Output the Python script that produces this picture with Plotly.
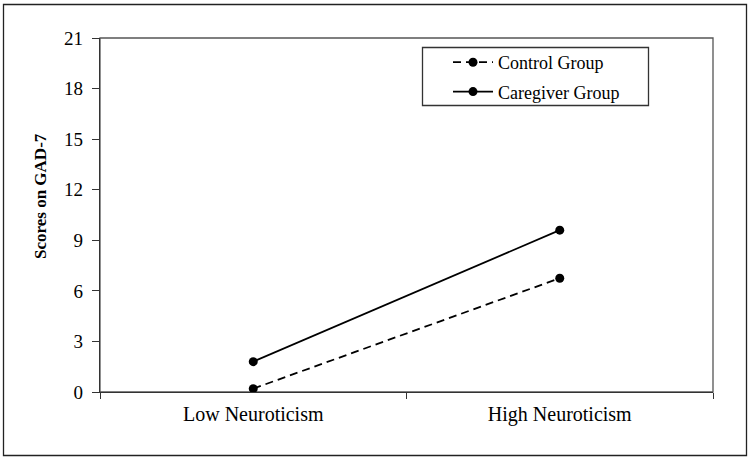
import plotly.graph_objects as go

categories = ["Low Neuroticism", "High Neuroticism"]
control_values = [0.2, 6.75]
caregiver_values = [1.8, 9.6]
y_ticks = [0, 3, 6, 9, 12, 15, 18, 21]

W, H = 750, 460
ml, mr, mt, mb = 100, 37, 38, 68
pw, ph = W - ml - mr, H - mt - mb

fig = go.Figure()
fig.add_trace(go.Scatter(
    x=categories, y=control_values, name="Control Group", mode="lines+markers",
    legendgroup="a",
    line=dict(color="black", width=1.8, dash="8px,5px"),
    marker=dict(color="black", size=9, symbol="circle"),
))
fig.add_trace(go.Scatter(
    x=categories, y=caregiver_values, name="Caregiver Group", mode="lines+markers",
    legendgroup="b",
    line=dict(color="black", width=1.8),
    marker=dict(color="black", size=9, symbol="circle"),
))

def px2x(p):
    return (p - ml) / pw

def py2y(p):
    return (H - mb - p) / ph

# outer frame
fig.add_shape(type="rect", xref="paper", yref="paper",
              x0=px2x(3.5), x1=px2x(746.5), y0=py2y(455.5), y1=py2y(4.5),
              line=dict(color="#222", width=1.3), layer="below")
# plot area box
fig.add_shape(type="rect", xref="paper", yref="paper",
              x0=0, x1=1, y0=0, y1=1,
              line=dict(color="#555", width=1.3), layer="below")
# legend box
fig.add_shape(type="rect", xref="paper", yref="paper",
              x0=px2x(422.5), x1=px2x(648.5), y0=py2y(105.5), y1=py2y(47.5),
              line=dict(color="#333", width=1.3), fillcolor="white", layer="below")

# y axis title
fig.add_annotation(text="<b>Scores on GAD-7</b>", xref="paper", yref="paper",
                   x=px2x(40), y=py2y(196), textangle=-90, showarrow=False,
                   xanchor="center", yanchor="middle",
                   font=dict(family="Liberation Serif", size=17, color="black"))

fig.update_layout(
    width=W, height=H,
    margin=dict(l=ml, r=mr, t=mt, b=mb),
    paper_bgcolor="white", plot_bgcolor="white",
    font=dict(family="Liberation Serif", color="black", size=18),
    showlegend=True,
    legend=dict(
        x=px2x(448), y=py2y(44), xanchor="left", yanchor="top",
        borderwidth=0, bgcolor="rgba(0,0,0,0)",
        font=dict(family="Liberation Serif", size=18, color="black"),
        itemwidth=40, tracegroupgap=3,
    ),
    xaxis=dict(
        type="category", range=[-0.5, 1.5], tickson="boundaries",
        ticks="outside", ticklen=6, tickcolor="#333", tickwidth=1.3,
        showline=True, linecolor="#333", linewidth=1.3,
        showgrid=False, zeroline=False, ticklabelstandoff=4,
        tickfont=dict(family="Liberation Serif", size=20, color="black"),
    ),
    yaxis=dict(
        range=[0, 21], tickvals=y_ticks,
        ticks="outside", ticklen=7, tickcolor="#333", tickwidth=1.3,
        showline=True, linecolor="#333", linewidth=1.3,
        showgrid=False, zeroline=False, ticklabelstandoff=5,
        tickfont=dict(family="Liberation Serif", size=19, color="black"),
    ),
)

fig.write_html("out.html", config={"displayModeBar": False},
               post_script="document.body.style.margin='0';")
